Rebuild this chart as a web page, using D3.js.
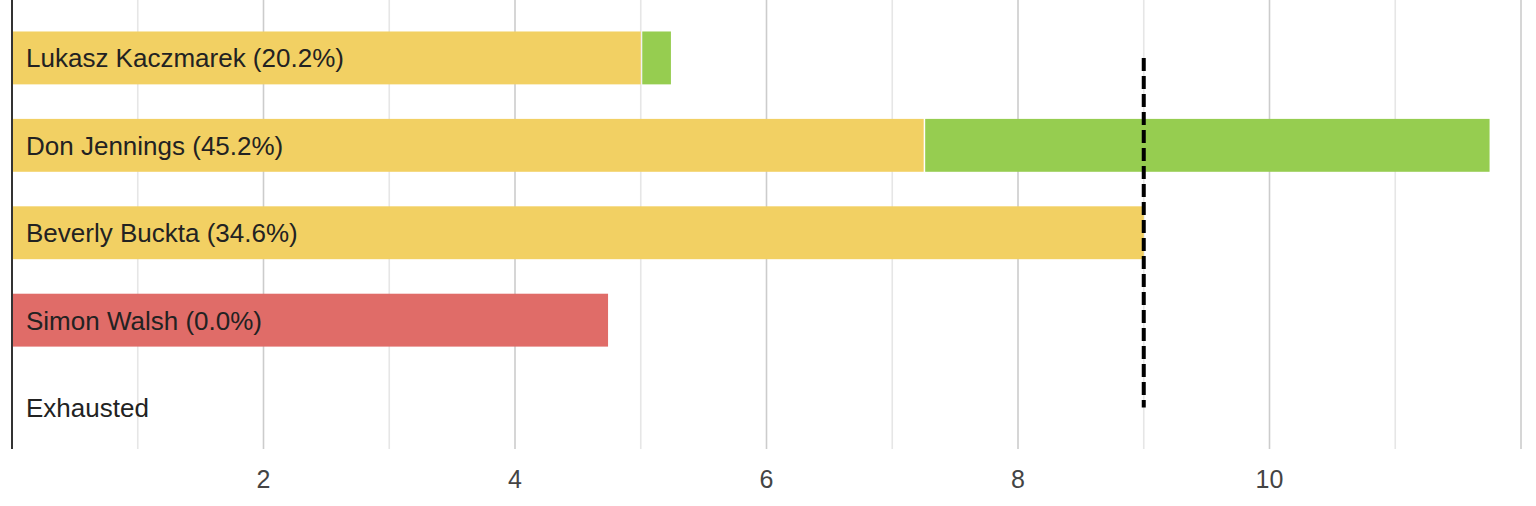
<!DOCTYPE html>
<html>
<head>
<meta charset="utf-8">
<script src="https://cdn.jsdelivr.net/npm/d3@7"></script>
<style>
  html, body { margin: 0; padding: 0; background: #fff; }
  svg { display: block; }
</style>
</head>
<body>
<svg id="chart" width="1536" height="506"></svg>
<script>
// ---- Data ----
const categories = ["Lukasz Kaczmarek (20.2%)", "Don Jennings (45.2%)", "Beverly Buckta (34.6%)", "Simon Walsh (0.0%)", "Exhausted"];
const firstVotes = [5, 7.25, 9, 4.74, 0];
const transferVotes = [0.24, 4.5, 0, 0, 0];
const eliminated = [false, false, false, true, false];
const threshold = 9;
const xTicks = [2, 4, 6, 8, 10];
const xGrid = [1, 2, 3, 4, 5, 6, 7, 8, 9, 10, 11, 12];

// ---- Layout ----
const left = 12, right = 1521, plotTop = 0, plotBottom = 449;
const svg = d3.select("#chart");

const x = d3.scaleLinear().domain([0, 12]).range([left, right]);
const y = d3.scaleBand().domain(categories).range([14, 451.5]).paddingInner(0.395).paddingOuter(0.2);

// gridlines
svg.append("g").selectAll("line").data(xGrid).join("line")
  .attr("x1", d => x(d)).attr("x2", d => x(d))
  .attr("y1", plotTop).attr("y2", plotBottom)
  .attr("stroke", d => d % 2 === 0 ? "#cccccc" : "#e6e6e6")
  .attr("stroke-width", 1.6);

const yellow = "#f2d063", green = "#96cd50", red = "#e06c68";

// first-preference bars
svg.append("g").selectAll("rect").data(categories).join("rect")
  .attr("x", x(0))
  .attr("y", d => y(d))
  .attr("width", (d, i) => x(firstVotes[i]) - x(0))
  .attr("height", y.bandwidth())
  .attr("fill", (d, i) => eliminated[i] ? red : yellow);

// transfer bars
svg.append("g").selectAll("rect").data(categories.filter((d, i) => transferVotes[i] > 0)).join("rect")
  .attr("x", d => x(firstVotes[categories.indexOf(d)]) + 1.5)
  .attr("y", d => y(d))
  .attr("width", d => { const i = categories.indexOf(d); return x(firstVotes[i] + transferVotes[i]) - x(firstVotes[i]) - 1.5; })
  .attr("height", y.bandwidth())
  .attr("fill", green);

// left axis line
svg.append("line")
  .attr("x1", left).attr("x2", left)
  .attr("y1", plotTop).attr("y2", plotBottom)
  .attr("stroke", "#333").attr("stroke-width", 2);

// threshold dashed line
svg.append("line")
  .attr("x1", x(threshold)).attr("x2", x(threshold))
  .attr("y1", y(categories[0]) + y.bandwidth() / 2)
  .attr("y2", y(categories[categories.length - 1]) + y.bandwidth() / 2)
  .attr("stroke", "#000").attr("stroke-width", 4)
  .attr("stroke-dasharray", "13,5");

// category labels
svg.append("g").selectAll("text").data(categories).join("text")
  .attr("x", left + 14)
  .attr("y", d => y(d) + y.bandwidth() / 2 + 9.5)
  .attr("font-family", "'Liberation Sans', Arial, sans-serif")
  .attr("font-size", 26)
  .attr("fill", "#222")
  .text(d => d);

// x tick labels
svg.append("g").selectAll("text").data(xTicks).join("text")
  .attr("x", d => x(d))
  .attr("y", 488)
  .attr("text-anchor", "middle")
  .attr("font-family", "'Liberation Sans', Arial, sans-serif")
  .attr("font-size", 25)
  .attr("fill", "#444")
  .text(d => d3.format("d")(d));
</script>
</body>
</html>
